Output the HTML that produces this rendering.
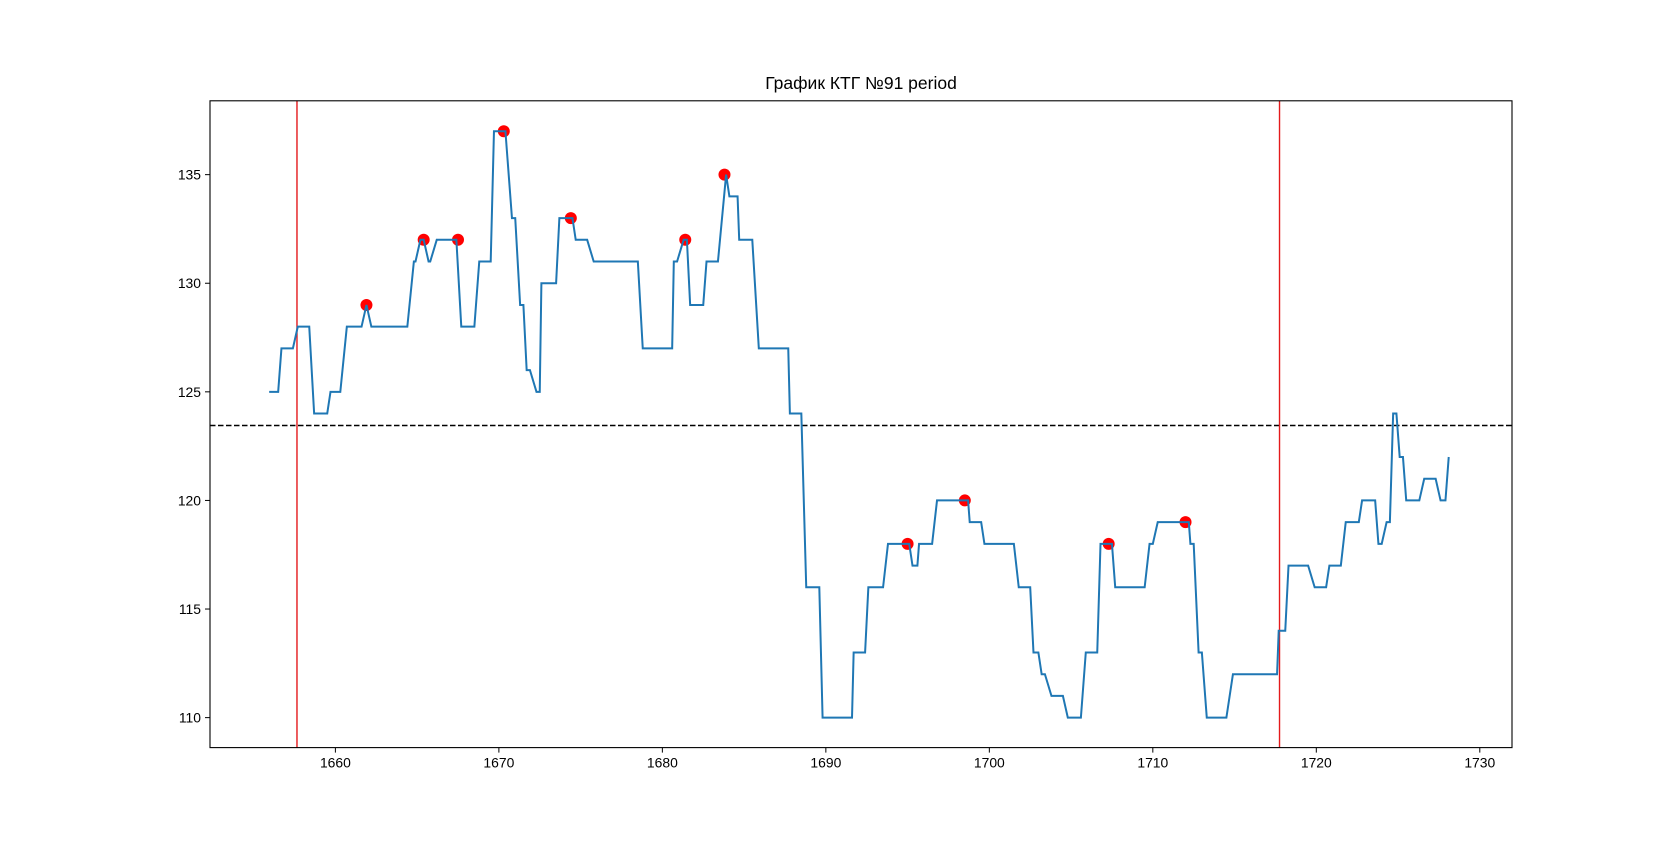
<!DOCTYPE html>
<html><head><meta charset="utf-8"><style>
body{margin:0;background:#fff;}
svg text{font-family:"Liberation Sans","DejaVu Sans",sans-serif;}
</style></head><body>
<svg id="chart" width="1680" height="840" xmlns="http://www.w3.org/2000/svg">
<rect width="1680" height="840" fill="#fff"/>
<g id="plot"></g>
</svg>
<script>
const times=[1655.95,1656.5,1656.7,1657.4,1657.7,1658.4,1658.7,1659.5,1659.7,1660.3,1660.7,1661.6,1661.9,1662.2,1664.4,1664.8,1664.9,1665.2,1665.4,1665.7,1665.8,1666.2,1667.4,1667.7,1668.5,1668.8,1669.5,1669.7,1670.4,1670.8,1671.0,1671.3,1671.5,1671.7,1671.9,1672.3,1672.5,1672.6,1673.5,1673.7,1674.5,1674.7,1675.4,1675.8,1678.5,1678.8,1680.6,1680.7,1680.9,1681.3,1681.5,1681.7,1682.5,1682.7,1683.4,1683.9,1684.1,1684.6,1684.7,1685.5,1685.9,1687.7,1687.8,1688.5,1688.8,1689.6,1689.8,1691.6,1691.7,1692.4,1692.6,1693.5,1693.8,1694.9,1695.1,1695.3,1695.6,1695.7,1696.5,1696.8,1698.7,1698.8,1699.5,1699.7,1701.5,1701.8,1702.5,1702.7,1703.0,1703.2,1703.4,1703.8,1704.5,1704.8,1705.6,1705.9,1706.6,1706.8,1707.5,1707.7,1709.5,1709.8,1710.0,1710.3,1712.2,1712.3,1712.5,1712.8,1713.0,1713.3,1714.5,1714.9,1717.6,1717.7,1718.1,1718.3,1719.5,1719.9,1720.6,1720.8,1721.5,1721.8,1722.6,1722.8,1723.6,1723.8,1724.0,1724.3,1724.5,1724.7,1724.9,1725.1,1725.3,1725.5,1726.3,1726.6,1727.3,1727.6,1727.9,1728.1];
const values=[125,125,127,127,128,128,124,124,125,125,128,128,129,128,128,131,131,132,132,131,131,132,132,128,128,131,131,137,137,133,133,129,129,126,126,125,125,130,130,133,133,132,132,131,131,127,127,131,131,132,132,129,129,131,131,135,134,134,132,132,127,127,124,124,116,116,110,110,113,113,116,116,118,118,118,117,117,118,118,120,120,119,119,118,118,116,116,113,113,112,112,111,111,110,110,113,113,118,118,116,116,118,118,119,119,118,118,113,113,110,110,112,112,114,114,117,117,116,116,117,117,119,119,120,120,118,118,119,119,124,124,122,122,120,120,121,121,120,120,122];
const peakTimes=[1661.9,1665.4,1667.5,1670.3,1674.4,1681.4,1683.8,1695.0,1698.5,1707.3,1712.0];
const peakValues=[129,132,132,137,133,132,135,118,120,118,119];
const vlineTimes=[1657.65,1717.75];
const baseline=[123.45];
const xTicks=[1660,1670,1680,1690,1700,1710,1720,1730];
const yTicks=[110,115,120,125,130,135];

const L=210,R=1512,T=100.8,B=747.6;
const xmin=1652.33,xmax=1731.97,ymin=108.62,ymax=138.4;
const sx=v=>L+(v-xmin)/(xmax-xmin)*(R-L);
const sy=v=>B-(v-ymin)/(ymax-ymin)*(B-T);
const NS="http://www.w3.org/2000/svg";
const g=document.getElementById('plot');
function mk(tag,attrs,parent){const e=document.createElementNS(NS,tag);for(const k in attrs)e.setAttribute(k,attrs[k]);(parent||g).appendChild(e);return e;}

const title=mk('text',{x:(L+R)/2,y:89,'text-anchor':'middle','font-size':'17.5',fill:'#000'});
title.textContent='График КТГ №91 period';



const clipId='clp';
const defs=mk('defs',{});
const cp=mk('clipPath',{id:clipId},defs);
mk('rect',{x:L,y:T,width:R-L,height:B-T},cp);

const bl=mk('line',{x1:L,x2:R,y1:sy(baseline[0]),y2:sy(baseline[0]),stroke:'#000','stroke-width':1.4,'stroke-dasharray':'5.5,2.5'});



vlineTimes.forEach((t,i)=>{
 const l=mk('line',{x1:sx(t),x2:sx(t),y1:T,y2:B,stroke:'#e41a1c','stroke-width':1.4});
 
 
});

peakTimes.forEach((t,i)=>{
 const c=mk('circle',{cx:sx(t),cy:sy(peakValues[i]),r:6,fill:'#ff0000'});
 
 
});

const pts=times.map((t,i)=>sx(t).toFixed(2)+','+sy(values[i]).toFixed(2)).join(' ');
const pl=mk('polyline',{points:pts,fill:'none',stroke:'#1f77b4','stroke-width':2,'stroke-linejoin':'miter','clip-path':'url(#'+clipId+')'});



const frame=mk('rect',{x:L,y:T,width:R-L,height:B-T,fill:'none',stroke:'#000','stroke-width':1.1});



xTicks.forEach(v=>{
 const x=sx(v);
 mk('line',{x1:x,x2:x,y1:B,y2:B+5,stroke:'#000','stroke-width':1});
 const t=mk('text',{x:x,y:B+20,'text-anchor':'middle','font-size':'13.9',fill:'#000'});
 t.textContent=v;
 
 
});
yTicks.forEach(v=>{
 const y=sy(v);
 mk('line',{x1:L-5,x2:L,y1:y,y2:y,stroke:'#000','stroke-width':1});
 const t=mk('text',{x:L-9,y:y+5,'text-anchor':'end','font-size':'13.9',fill:'#000'});
 t.textContent=v;
 
 
});
</script>
</body></html>
